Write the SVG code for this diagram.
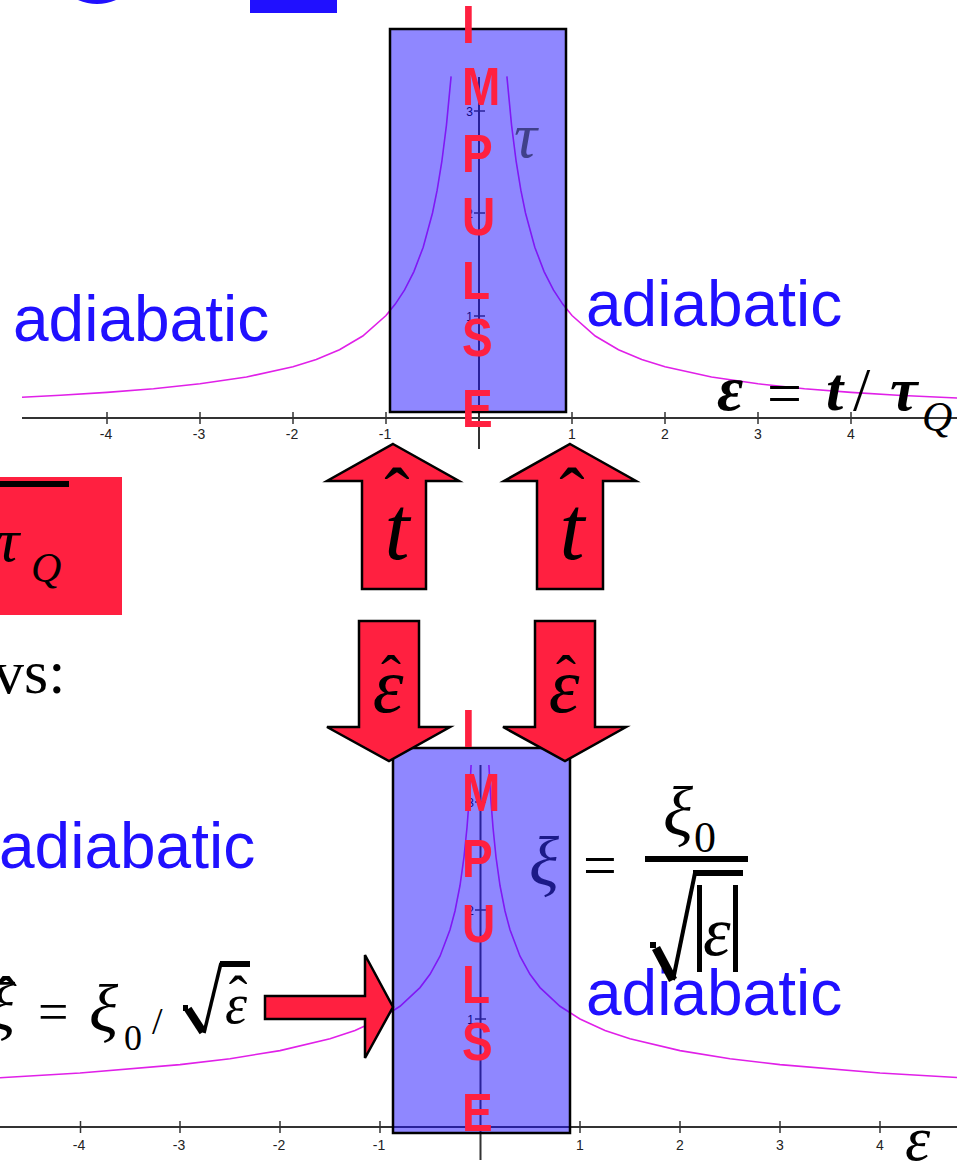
<svg xmlns="http://www.w3.org/2000/svg" width="957" height="1169" viewBox="0 0 957 1169">
<style>
.axis{stroke:#333;stroke-width:2;fill:none}
.tick{stroke:#333;stroke-width:1.5}
.tl{font-family:"Liberation Sans",Arial,sans-serif;font-size:14px;fill:#222;text-anchor:middle}
.yl{font-family:"Liberation Sans",Arial,sans-serif;font-size:12px;fill:#000;text-anchor:end}
.curve{stroke:#e020e8;stroke-width:1.6;fill:none}
.box{fill:#2010ff;fill-opacity:0.5;stroke:#000;stroke-width:2.5}
.imp{font-family:"Liberation Sans",Arial,sans-serif;font-weight:bold;font-size:46px;fill:#ff2040}
.adia{font-family:"Liberation Sans",Arial,sans-serif;font-size:64px;fill:#2010ff}
.arrow{fill:#ff2040;stroke:#000;stroke-width:2.5;stroke-linejoin:miter}
.m{font-family:"Liberation Serif","Times New Roman",serif;font-style:italic;fill:#000}
.r{font-family:"Liberation Serif","Times New Roman",serif;fill:#000}
.hat{font-family:"Liberation Serif","Times New Roman",serif;fill:#000;text-anchor:middle}
</style>

<g id="top-fragments">
<path d="M78,0 Q97,8 116,0 Z" fill="#2010ff"/>
<rect x="250" y="0" width="87" height="13" fill="#2010ff"/>
</g>

<g id="upper-graph">
<line class="axis" x1="22" y1="418" x2="957" y2="418"/>
<line class="axis" x1="479" y1="77" x2="479" y2="449"/>
<g class="tick">
<line x1="107" y1="412" x2="107" y2="424"/><line x1="200" y1="412" x2="200" y2="424"/>
<line x1="293" y1="412" x2="293" y2="424"/><line x1="386" y1="412" x2="386" y2="424"/>
<line x1="572" y1="412" x2="572" y2="424"/><line x1="665" y1="412" x2="665" y2="424"/>
<line x1="758" y1="412" x2="758" y2="424"/><line x1="851" y1="412" x2="851" y2="424"/>
<line x1="474" y1="111" x2="485" y2="111"/><line x1="474" y1="213" x2="485" y2="213"/>
<line x1="474" y1="316" x2="485" y2="316"/>
</g>
<text class="tl" x="106" y="439">-4</text><text class="tl" x="199" y="439">-3</text>
<text class="tl" x="292" y="439">-2</text><text class="tl" x="385" y="439">-1</text>
<text class="tl" x="572" y="439">1</text><text class="tl" x="665" y="439">2</text>
<text class="tl" x="758" y="439">3</text><text class="tl" x="851" y="439">4</text>
<text class="yl" x="473" y="116">3</text><text class="yl" x="473" y="218">2</text><text class="yl" x="473" y="321">1</text>
<polyline class="curve" points="22,397.2 60.5,395.2 107,392.4 153.5,388.7 200,383.8 246.5,377 293,366.75 316.25,359.4 339.5,349.7 362.75,336 386,315.5 395.3,304.1 404.6,289.9 413.9,271.6 423.2,247.2 432.5,213 437.15,190.2 441.8,161.75 446.45,125.1 451.1,76.3"/>
<polyline class="curve" points="958,398.1 897.5,395.2 851,392.4 804.5,388.7 758,383.8 711.5,377 665,366.75 641.75,359.4 618.5,349.7 595.25,336 572,315.5 562.7,304.1 553.4,289.9 544.1,271.6 534.8,247.2 525.5,213 520.85,190.2 516.2,161.75 511.55,125.1 506.9,76.3"/>
</g>

<g id="upper-impulse">
<rect class="box" x="390" y="29" width="176" height="383"/>
<text class="m" x="514" y="157" font-size="64" style="fill:#40408a">τ</text>
<text class="imp" transform="translate(462,43) scale(1,1.18)">I</text>
<text class="imp" transform="translate(462,105) scale(1,1.18)">M</text>
<text class="imp" transform="translate(462,172) scale(1,1.18)">P</text>
<text class="imp" transform="translate(462,235) scale(1,1.18)">U</text>
<text class="imp" transform="translate(462,299) scale(1,1.18)">L</text>
<text class="imp" transform="translate(462,356) scale(1,1.18)">S</text>
<text class="imp" transform="translate(462,427) scale(1,1.18)">E</text>
</g>

<g id="adiabatic-labels">
<text class="adia" x="13" y="341">adiabatic</text>
<text class="adia" x="586" y="326">adiabatic</text>
<text class="adia" x="-1" y="868">adiabatic</text>
<text class="adia" x="586" y="1015">adiabatic</text>
</g>

<g id="eps-definition">
<text class="m" x="717" y="410" font-size="64" font-weight="bold">ε</text>
<text class="r" x="767" y="414" font-size="62">=</text>
<text class="m" x="826" y="410" font-size="62" font-weight="bold">t</text>
<text class="r" x="853" y="410" font-size="62">/</text>
<text class="m" x="890" y="410" font-size="62" font-weight="bold">τ</text>
<text class="m" x="922" y="431" font-size="42">Q</text>
</g>

<g id="tauQ-box">
<rect x="0" y="477" width="122" height="138" fill="#ff2040"/>
<rect x="0" y="481" width="69" height="6" fill="#000"/>
<text class="m" x="-3" y="561" font-size="62">τ</text>
<text class="m" x="31" y="582" font-size="42">Q</text>
</g>

<g id="vs-text">
<text class="r" x="-7" y="693" font-size="62">vs:</text>
</g>

<g id="lower-graph">
<line class="axis" x1="0" y1="1127" x2="957" y2="1127"/>
<line class="axis" x1="480.5" y1="765" x2="480.5" y2="1160"/>
<g class="tick">
<line x1="80.5" y1="1121" x2="80.5" y2="1133"/><line x1="180" y1="1121" x2="180" y2="1133"/>
<line x1="280" y1="1121" x2="280" y2="1133"/><line x1="380" y1="1121" x2="380" y2="1133"/>
<line x1="580" y1="1121" x2="580" y2="1133"/><line x1="680" y1="1121" x2="680" y2="1133"/>
<line x1="780" y1="1121" x2="780" y2="1133"/><line x1="880" y1="1121" x2="880" y2="1133"/>
<line x1="475" y1="802" x2="486" y2="802"/><line x1="475" y1="910" x2="486" y2="910"/>
<line x1="475" y1="1019" x2="486" y2="1019"/>
</g>
<text class="tl" x="79" y="1150">-4</text><text class="tl" x="179" y="1150">-3</text>
<text class="tl" x="279" y="1150">-2</text><text class="tl" x="379" y="1150">-1</text>
<text class="tl" x="580" y="1150">1</text><text class="tl" x="680" y="1150">2</text>
<text class="tl" x="780" y="1150">3</text><text class="tl" x="880" y="1150">4</text>
<text class="yl" x="474" y="807">3</text><text class="yl" x="474" y="915">2</text><text class="yl" x="474" y="1024">1</text>
<polyline class="curve" points="0,1077.7 80,1073 180,1064.65 230,1058.7 280,1050.6 330,1038.8 355,1030.4 380,1019 400,1006.25 420,987.6 430,974.3 440,956.25 450,929.8 455,911 460,885.5 464,857 467,827.5 469,801.4 470,785.5 471.1,765"/>
<polyline class="curve" points="960,1077.7 880,1073 780,1064.65 730,1058.7 680,1050.6 630,1038.8 605,1030.4 580,1019 560,1006.25 540,987.6 530,974.3 520,956.25 510,929.8 505,911 500,885.5 496,857 493,827.5 491,801.4 490,785.5 488.9,765"/>
<text class="m" x="905" y="1160" font-size="64">ε</text>
</g>

<g id="lower-impulse">
<rect class="box" x="393" y="748" width="177" height="385"/>
<text class="m" x="529" y="885" font-size="70" style="fill:#1c1a88">ξ</text>
<text class="imp" transform="translate(462,747) scale(1,1.18)">I</text>
<text class="imp" transform="translate(462,811) scale(1,1.18)">M</text>
<text class="imp" transform="translate(462,877) scale(1,1.18)">P</text>
<text class="imp" transform="translate(462,942) scale(1,1.18)">U</text>
<text class="imp" transform="translate(462,1003) scale(1,1.18)">L</text>
<text class="imp" transform="translate(462,1060) scale(1,1.18)">S</text>
<text class="imp" transform="translate(462,1131) scale(1,1.18)">E</text>
</g>

<g id="xi-formula">
<text class="r" x="583" y="885" font-size="60">=</text>
<text class="m" x="663" y="835" font-size="70">ξ</text>
<text class="r" x="694" y="852" font-size="44">0</text>
<rect x="645" y="856" width="103" height="6" fill="#000"/>
<rect x="650" y="942" width="6" height="6" fill="#000"/>
<path d="M656,948 L673,980" stroke="#000" stroke-width="9" fill="none"/>
<path d="M673,980 L695,873" stroke="#000" stroke-width="4" fill="none"/>
<rect x="693" y="870" width="50" height="6" fill="#000"/>
<rect x="697" y="885" width="5" height="87" fill="#000"/>
<rect x="733" y="885" width="5" height="87" fill="#000"/>
<text class="m" x="703" y="955" font-size="70">ε</text>
</g>

<g id="xihat-formula">
<text class="m" x="-14" y="1030" font-size="68">ξ</text>
<text class="hat" x="6" y="1022" font-size="66">ˆ</text>
<text class="r" x="38" y="1030" font-size="54">=</text>
<text class="m" x="89" y="1032" font-size="68">ξ</text>
<text class="r" x="124" y="1050" font-size="36">0</text>
<text class="r" x="152" y="1034" font-size="38">/</text>
<rect x="183" y="1005" width="5" height="6" fill="#000"/>
<path d="M188,1009 L203,1032" stroke="#000" stroke-width="8" fill="none"/>
<path d="M204,1033 L221,963" stroke="#000" stroke-width="3.5" fill="none"/>
<rect x="220" y="961" width="30" height="6" fill="#000"/>
<text class="m" x="225" y="1023" font-size="56">ε</text>
<text class="hat" x="238" y="1015" font-size="56">ˆ</text>
</g>

<g id="connectors">
<polygon class="arrow" points="393,444 459,481 426,481 426,589 362,589 362,481 327,481"/>
<polygon class="arrow" points="570,444 636,481 603,481 603,589 537,589 537,481 504,481"/>
<polygon class="arrow" points="359,621 419,621 419,727 450,727 389,761 327,727 359,727"/>
<polygon class="arrow" points="535,621 595,621 595,727 626,727 565,761 503,727 535,727"/>
<polygon class="arrow" points="265,996 365,996 365,955 393,1007 365,1058 365,1019 265,1019"/>
</g>

<g id="arrow-labels">
<text class="m" x="397" y="559" font-size="90" text-anchor="middle">t</text>
<text class="hat" x="397" y="521" font-size="76">ˆ</text>
<text class="m" x="572" y="559" font-size="90" text-anchor="middle">t</text>
<text class="hat" x="572" y="521" font-size="76">ˆ</text>
<text class="m" x="388" y="712" font-size="78" text-anchor="middle">ε</text>
<text class="hat" x="391" y="696" font-size="60">ˆ</text>
<text class="m" x="564" y="712" font-size="78" text-anchor="middle">ε</text>
<text class="hat" x="566" y="696" font-size="60">ˆ</text>
</g>
</svg>
